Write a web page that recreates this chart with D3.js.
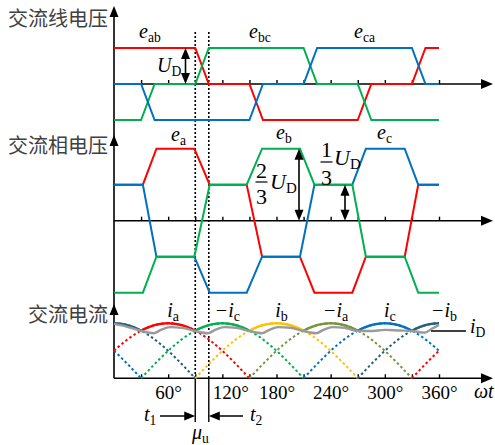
<!DOCTYPE html>
<html>
<head>
<meta charset="utf-8">
<script src="https://cdn.jsdelivr.net/npm/d3@7"></script>
<style>
  body { margin: 0; background: #fff; }
  text { font-family: "Liberation Serif", "Times New Roman", serif; fill: #000; }
  .cn { font-family: "Noto Sans CJK SC", sans-serif; fill: #404040; font-size: 20px; }
</style>
</head>
<body>
<svg id="chart" width="495" height="445"></svg>
<script>
// Line voltages (units of U_D), breakpoints in electrical degrees
const eabDeg = [0, 90, 105, 150, 165, 270, 285, 330, 345, 360];
const eabVal = [1, 1, 0, 0, -1, -1, 0, 0, 1, 1];
const ebcDeg = [0, 30, 45, 90, 105, 210, 225, 270, 285, 360];
const ebcVal = [-1, -1, 0, 0, 1, 1, 0, 0, -1, -1];
const ecaDeg = [0, 30, 45, 150, 165, 210, 225, 330, 345, 360];
const ecaVal = [0, 0, -1, -1, 0, 0, 1, 1, 0, 0];

// Phase voltages (units of U_D/3)
const phaseDeg = [0, 32, 47, 89, 106, 147, 164, 206, 222, 264, 279, 322, 337, 360];
const eaVal = [1, 1, 2, 2, 1, 1, -1, -1, -2, -2, -1, -1, 1, 1];
const ebVal = [-2, -2, -1, -1, 1, 1, 2, 2, 1, 1, -1, -1, -2, -2];
const ecVal = [1, 1, -1, -1, -2, -2, -1, -1, 1, 1, 2, 2, 1, 1];

// Rectified phase-current arcs: peak angle and colour
const arcPeaks = [-60, 0, 60, 120, 180, 240, 300, 360, 420];
const arcColors = ["#0070c0", "#24607a", "#ff0000", "#00b050", "#ffc000", "#77933c", "#0070c0", "#24607a", "#ff0000"];
const currentLabels = ["i|a", "−i|c", "i|b", "−i|a", "i|c", "−i|b"];
const currentLabelDeg = [60, 120, 180, 240, 300, 360];

// DC current i_D (per unit of arc peak)
const iDDeg = [0, 12, 30, 44, 52, 62, 75, 90, 104, 112, 122, 135, 150, 164, 172, 182, 195, 210, 224, 232, 242, 255, 270, 284, 300, 316, 330, 344, 352, 360];
const iDVal = [0.99, 0.95, 0.86, 0.82, 0.88, 0.93, 0.92, 0.86, 0.82, 0.88, 0.93, 0.92, 0.86, 0.82, 0.88, 0.93, 0.92, 0.86, 0.82, 0.88, 0.93, 0.92, 0.86, 0.86, 0.88, 0.87, 0.86, 0.83, 0.9, 0.97];

// Axis ticks and labels
const tickDeg = [30, 60, 90, 120, 150, 180, 210, 240, 270, 300, 330, 360];
const tickLabelDeg = [60, 120, 180, 240, 300, 360];
const commutationDeg = [90, 105];

const svg = d3.select("#chart");
const x = d3.scaleLinear().domain([0, 360]).range([114, 439]);
const yL = d3.scaleLinear().domain([-1, 1]).range([120, 48]);
const yP = d3.scaleLinear().domain([-2, 2]).range([292.7, 148.7]);
const yC = d3.scaleLinear().domain([0, 1]).range([378.3, 323.3]);

const line = (ys) => d3.line().x(d => x(d[0])).y(d => ys(d[1]));
const zipPts = (a, b) => a.map((d, i) => [d, b[i]]);

function arrowHead(px, py, dir, len = 11, half = 4.5) {
  let pts;
  if (dir === "up") pts = [[px, py], [px - half, py + len], [px + half, py + len]];
  if (dir === "down") pts = [[px, py], [px - half, py - len], [px + half, py - len]];
  if (dir === "right") pts = [[px, py], [px - len, py - half], [px - len, py + half]];
  if (dir === "left") pts = [[px, py], [px + len, py - half], [px + len, py + half]];
  svg.append("path").attr("d", "M" + pts.join("L") + "Z").attr("fill", "#000");
}

// ---------- axes ----------
const zeroLines = [yL(0), yP(0), yC(0)];
const axisTops = [6, 135, 304];
svg.append("line").attr("x1", 114).attr("x2", 114).attr("y1", axisTops[0] + 6).attr("y2", yC(0))
  .attr("stroke", "#000").attr("stroke-width", 1.6);
axisTops.forEach(t => arrowHead(114, t, "up"));
zeroLines.forEach((y0, i) => {
  svg.append("line").attr("x1", 114).attr("x2", 484).attr("y1", y0).attr("y2", y0)
    .attr("stroke", "#000").attr("stroke-width", 1.6);
  arrowHead(493, y0, "right", 12, 5);
  const ax = d3.axisBottom(x).tickValues(tickDeg).tickSizeInner(-4).tickSizeOuter(0).tickPadding(7)
    .tickFormat(d => (i === 2 && tickLabelDeg.includes(d)) ? d + "°" : "");
  const g = svg.append("g").attr("transform", `translate(0,${y0})`).call(ax);
  g.select(".domain").remove();
  g.selectAll(".tick line").attr("stroke", "#000").attr("stroke-width", 1.4);
  g.selectAll(".tick text")
    .style("font-family", "'Liberation Serif', serif").style("font-size", "19px").attr("fill", "#000")
    .attr("dx", d => commutationDeg.some(c => Math.abs(x(c) - x(d)) < 16 && c > d - 20 && d > c) ? 8 : 0);
});

// ---------- commutation markers ----------
commutationDeg.forEach(d => {
  svg.append("line").attr("x1", x(d)).attr("x2", x(d)).attr("y1", 32).attr("y2", yC(0))
    .attr("stroke", "#000").attr("stroke-width", 1.6).attr("stroke-dasharray", "2,2");
  svg.append("line").attr("x1", x(d)).attr("x2", x(d)).attr("y1", yC(0)).attr("y2", 422)
    .attr("stroke", "#000").attr("stroke-width", 1.4);
});

// ---------- line voltages ----------
const lineSeries = [[eabDeg, eabVal, "#ff0000"], [ebcDeg, ebcVal, "#00b050"], [ecaDeg, ecaVal, "#0070c0"]];
lineSeries.forEach(([dg, v, c]) => {
  svg.append("path").attr("d", line(yL)(zipPts(dg, v))).attr("fill", "none")
    .attr("stroke", c).attr("stroke-width", 2);
});

// ---------- phase voltages ----------
const phaseSeries = [[eaVal, "#ff0000"], [ecVal, "#0070c0"], [ebVal, "#00b050"]];
phaseSeries.forEach(([v, c]) => {
  svg.append("path").attr("d", line(yP)(zipPts(phaseDeg, v))).attr("fill", "none")
    .attr("stroke", c).attr("stroke-width", 2);
});

// ---------- phase currents (sinusoidal half-waves) ----------
function arcPath(peak, a0, a1) {
  const lo = Math.max(a0, 0), hi = Math.min(a1, 360);
  if (hi <= lo) return null;
  const pts = d3.range(lo, hi, 1).concat([hi]);
  return d3.line().x(d => x(d)).y(d => yC(Math.cos((d - peak) * Math.PI / 180)))(pts);
}
arcPeaks.forEach((p, i) => {
  const d = arcPath(p, p - 90, p + 90);
  if (d) svg.append("path").attr("d", d).attr("fill", "none").attr("stroke", arcColors[i])
    .attr("stroke-width", 2).attr("stroke-dasharray", "2.5,2.5");
});
arcPeaks.forEach((p, i) => {
  const d = arcPath(p, p - 30, p + 30);
  if (d) svg.append("path").attr("d", d).attr("fill", "none").attr("stroke", arcColors[i])
    .attr("stroke-width", 2.4);
});
svg.append("path").attr("d", d3.line().x(d => x(d[0])).y(d => yC(d[1])).curve(d3.curveMonotoneX)(zipPts(iDDeg, iDVal)))
  .attr("fill", "none").attr("stroke", "#9a9a9a").attr("stroke-width", 2.4);
svg.append("line").attr("x1", 431).attr("x2", 466).attr("y1", 331).attr("y2", 331)
  .attr("stroke", "#000").attr("stroke-width", 1.4);

// ---------- text ----------
function sub(tx, ty, main, subs, opts = {}) {
  const fs = opts.size || 20;
  const t = svg.append("text").attr("x", tx).attr("y", ty).attr("font-size", fs);
  t.append("tspan").attr("font-style", opts.upright ? "normal" : "italic").text(main);
  if (subs) t.append("tspan").attr("font-size", fs * 0.68).attr("dy", fs * 0.2).text(subs);
  return t;
}
svg.append("text").attr("class", "cn").attr("x", 8).attr("y", 26).text("交流线电压");
svg.append("text").attr("class", "cn").attr("x", 8).attr("y", 153).text("交流相电压");
svg.append("text").attr("class", "cn").attr("x", 28).attr("y", 322).text("交流电流");

sub(139, 38, "e", "ab");
sub(249, 38, "e", "bc");
sub(354, 38, "e", "ca");
sub(171, 141, "e", "a");
sub(276, 139, "e", "b");
sub(377, 139, "e", "c");

// U_D arrows
function dblArrow(px, y1, y2) {
  svg.append("line").attr("x1", px).attr("x2", px).attr("y1", y1 + 6).attr("y2", y2 - 6)
    .attr("stroke", "#000").attr("stroke-width", 1.6);
  arrowHead(px, y1, "up", 11, 4.5);
  arrowHead(px, y2, "down", 11, 4.5);
}
dblArrow(185.5, yL(1), yL(0));
sub(157, 72, "U", "D");
dblArrow(299, yP(2), yP(0));
dblArrow(345, yP(1), yP(0));

// fractions
function frac(fx, top, bar, bot, num, den) {
  svg.append("text").attr("x", fx).attr("y", top).attr("font-size", 22).attr("text-anchor", "middle").text(num);
  svg.append("line").attr("x1", fx - 6).attr("x2", fx + 6).attr("y1", bar).attr("y2", bar).attr("stroke", "#000").attr("stroke-width", 1.2);
  svg.append("text").attr("x", fx).attr("y", bot).attr("font-size", 22).attr("text-anchor", "middle").text(den);
}
frac(261.5, 178, 182, 204, "2", "3");
sub(270, 189, "U", "D", { size: 22 });
frac(326.5, 157, 162, 185, "1", "3");
sub(334, 165, "U", "D", { size: 22 });

// current labels
currentLabels.forEach((s, i) => {
  const [m, sb] = s.split("|");
  const t = svg.append("text").attr("x", x(currentLabelDeg[i]) + 5).attr("y", 317).attr("font-size", 20).attr("text-anchor", "middle");
  t.append("tspan").attr("font-style", "italic").text(m);
  t.append("tspan").attr("font-size", 14).attr("dy", 4).text(sb);
});
sub(470, 333, "i", "D");

// omega t
svg.append("text").attr("x", 474).attr("y", 398).attr("font-size", 20).attr("font-style", "italic").text("ωt");

// t1, t2, mu_u
svg.append("line").attr("x1", 160).attr("x2", x(90) - 9).attr("y1", 416).attr("y2", 416).attr("stroke", "#000").attr("stroke-width", 1.5);
arrowHead(x(90), 416, "right", 11, 4.5);
svg.append("line").attr("x1", 243).attr("x2", x(105) + 9).attr("y1", 416).attr("y2", 416).attr("stroke", "#000").attr("stroke-width", 1.5);
arrowHead(x(105), 416, "left", 11, 4.5);
sub(144, 421, "t", "1");
sub(250, 421, "t", "2");
sub(192, 439, "μ", "u");
</script>
</body>
</html>
